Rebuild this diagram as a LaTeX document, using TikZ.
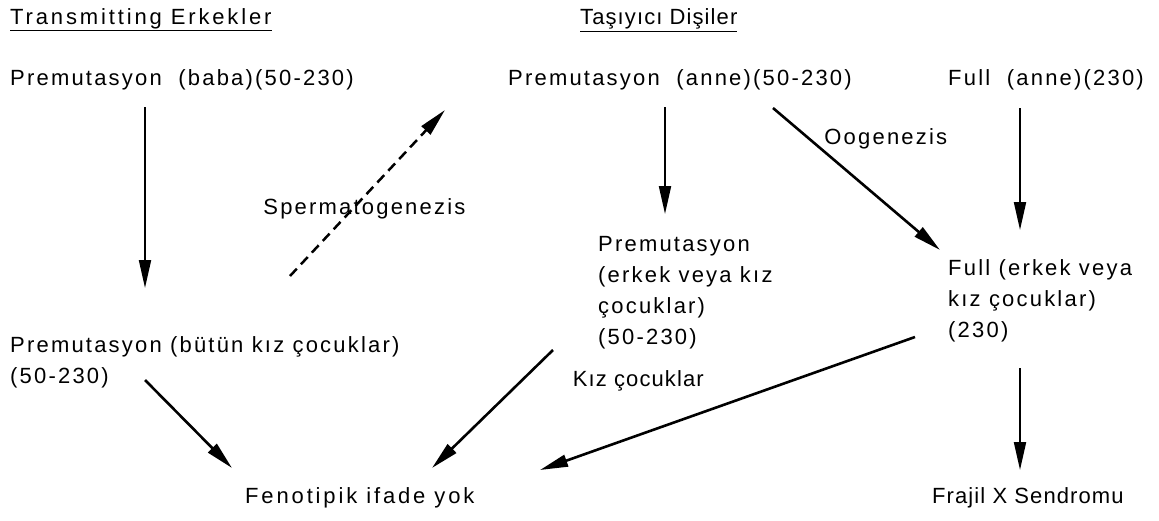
\documentclass[tikz,border=0pt]{standalone}
\usepackage{fontspec}
\setmainfont{Liberation Sans}[LetterSpace=10]
\newfontfamily\narrowsans{Liberation Sans}[LetterSpace=5]
\newfontfamily\widesans{Liberation Sans}[LetterSpace=13]
\usepackage{tikz}
\usetikzlibrary{arrows.meta,calc}

\begin{document}
\begin{tikzpicture}[x=1pt,y=-1pt,
  txt/.style={anchor=west, inner sep=0pt, align=left, font=\fontsize{22}{31}\selectfont},
  lbl/.style={inner sep=0pt, font=\fontsize{22}{31}\selectfont},
  arr/.style={->, line width=2pt},
  thick arr/.style={arr, line width=2.6pt},
  >={Triangle[length=28pt,width=12pt]}]
  \useasboundingbox (0,0) rectangle (1159,520);
  \node[txt] (hm) at (10,20) {\widesans\fontsize{22}{31}\selectfont\underline{Transmitting Erkekler}};
  \node[txt] (hf) at (580,20) {\narrowsans\fontsize{22}{31}\selectfont\underline{Taşıyıcı Dişiler}};
  \node[txt] (pb) at (10,80) {Premutasyon\ \ (baba)(50-230)};
  \node[txt] (pa) at (508,80) {Premutasyon\ \ (anne)(50-230)};
  \node[txt] (fa) at (948,80) {Full\ \ (anne)(230)};
  \node[txt] (pk) at (10,362) {Premutasyon (bütün kız çocuklar)\\(50-230)};
  \node[txt] (pe) at (598,293) {Premutasyon\\(erkek veya kız\\çocuklar)\\(50-230)};
  \node[txt] (fe) at (948,301) {Full (erkek veya\\kız çocuklar)\\(230)};
  \node[txt] (fy) at (245,498) {\widesans\fontsize{22}{31}\selectfont Fenotipik ifade yok};
  \node[txt] (fx) at (932,498) {\narrowsans\fontsize{22}{31}\selectfont Frajil X Sendromu};
  % fathers
  \draw[arr] ($(pb.west)+(135,27)$) -- ($(pk.west)+(135,-74)$);
  \draw[arr, line width=2.5pt, dash pattern=on 10pt off 6pt] ($(pk.west)+(280,-86)$) -- ($(pa.west)+(-63,30)$)
    node[lbl, pos=0.48, yshift=-12pt] {Spermatogenezis};
  % mothers
  \draw[arr] ($(pa.west)+(157,27)$) -- ($(pe.west)+(67,-79)$);
  \draw[thick arr] ($(pa.west)+(265,28)$) -- ($(fe.west)+(-8,-51)$)
    node[lbl, pos=0.3, anchor=south west] {Oogenezis};
  \draw[arr] ($(fa.west)+(72,28)$) -- ($(fe.west)+(72,-71)$);
  % outcome
  \draw[thick arr] ($(pk.west)+(135,18)$) -- ($(fy.west)+(-13,-30)$);
  \draw[thick arr] ($(pe.west)+(-45,57)$) -- ($(fy.west)+(187,-30)$);
  \draw[thick arr] ($(fe.west)+(-33,36)$) -- ($(fy.west)+(295,-28)$)
    node[lbl, pos=0.56, anchor=east, yshift=31pt] {\narrowsans\fontsize{22}{31}\selectfont Kız çocuklar};
  \draw[arr] ($(fe.west)+(72,67)$) -- ($(fx.west)+(88,-28)$);
\end{tikzpicture}
\end{document}
